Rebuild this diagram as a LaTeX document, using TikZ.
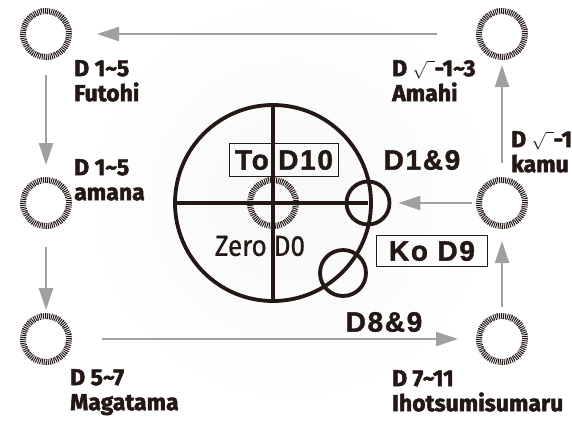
\documentclass[tikz,border=0pt]{standalone}
\usepackage{fontspec}
\setmainfont{Fira Sans}
\newfontfamily\heavyfont[BoldFeatures={FakeBold=2}]{Fira Sans}
\newfontfamily\zerofont[FakeStretch=0.9,FakeBold=0.8]{Fira Sans}
\newfontfamily\markfont[LetterSpace=6,BoldFeatures={FakeBold=1.5}]{Liberation Sans}
\usetikzlibrary{arrows.meta}
\definecolor{ink}{HTML}{231815}
\definecolor{flowgray}{HTML}{9FA0A0}
\newcommand{\rootsign}{{\fontsize{16}{16}\selectfont$\sqrt{\vphantom{1}\;\,}$}}
\tikzset{
  ringnode/.style={circle, draw=ink, line width=6pt, dash pattern=on 1pt off 1pt,
    minimum size=46pt, inner sep=0pt, outer sep=3pt},
  flowline/.style={draw=flowgray, line width=2.4pt, -{Triangle[length=22pt,width=14pt]}},
  dtext/.style={font=\heavyfont\fontsize{23}{25}\selectfont\bfseries, text=ink, align=left,
    anchor=north west, inner sep=0pt},
  dmark/.style={font=\markfont\fontsize{28}{28}\selectfont\bfseries, text=ink, inner sep=0pt},
  hoop/.style={circle, draw=ink, line width=3.8pt, inner sep=0pt}
}
\begin{document}
\begin{tikzpicture}[x=1pt,y=-1pt]
    \useasboundingbox (0,0) rectangle (572,424);
    \clip (0,0) rectangle (572,424);
    %% faint glow behind the dial
    \shade[inner color=black!3, outer color=white] (290,200) circle (210);
    %% dial with cross
    \draw[ink, line width=3.8pt] (273,203) circle (98);
    \draw[ink, line width=3.8pt] (175,203) -- (368,203);
    \draw[ink, line width=3.8pt] (273,105) -- (273,301);
    \node[hoop, minimum size=43pt] (meet) at (368,203) {};
    \node[hoop, minimum size=46pt] (loop) at (343,273) {};
    %% boxes and marks on the dial
    \node[dmark, draw=ink, line width=1.2pt, minimum width=109pt, minimum height=33pt]
        (todten) at (284,160) {To D10};
    \node[dmark, draw=ink, line width=1.2pt, minimum width=111pt, minimum height=31pt]
        (kodnine) at (432,251) {Ko D9};
    \node[dmark] (dfirst) at (422,160) {D1\&9};
    \node[dmark] (deight) at (384,322) {D8\&9};
    \node[font=\zerofont\fontsize{29}{29}\selectfont, text=ink, inner sep=0pt]
        (zerolab) at (260,246) {Zero D0};
    %% rings
    \node[ringnode] (futohi) at (46,34) {};
    \node[ringnode] (amana) at (46,203) {};
    \node[ringnode] (magatama) at (46,339) {};
    \node[ringnode] (ihotsu) at (502,339) {};
    \node[ringnode] (kamu) at (502,203) {};
    \node[ringnode] (amahi) at (502,34) {};
    \node[ringnode] (zero) at (273,203) {};
    %% ring labels
    \node[dtext] (futohilab) at (74,60) {D 1\textasciitilde5\\Futohi};
    \node[dtext] (amanalab) at (74,159) {D 1\textasciitilde5\\amana};
    \node[dtext] (magatamalab) at (70,369) {D 5\textasciitilde7\\Magatama};
    \node[dtext] (ihotsulab) at (392,370) {D 7\textasciitilde11\\Ihotsumisumaru};
    \node[dtext] (kamulab) at (511,131) {D \rootsign-1\\kamu};
    \node[dtext] (amahilab) at (392,60) {D \rootsign-1\textasciitilde3\\Amahi};
    %% flow between rings
    \draw[flowline, shorten <=39pt, shorten >=25pt] (amahi) -- (futohi);
    \draw[flowline, shorten <=15pt, shorten >=12pt] (futohi) -- (amana);
    \draw[flowline, shorten <=18pt, shorten >=3pt] (amana) -- (magatama);
    \draw[flowline, shorten <=30pt, shorten >=18pt] (magatama) -- (ihotsu);
    \draw[flowline, shorten <=6pt, shorten >=12pt] (ihotsu) -- (kamu);
    \draw[flowline, shorten <=14pt, shorten >=5pt] (kamu) -- (amahi);
    \draw[flowline, shorten <=4pt, shorten >=7pt] (kamu) -- (meet);
\end{tikzpicture}
\end{document}
